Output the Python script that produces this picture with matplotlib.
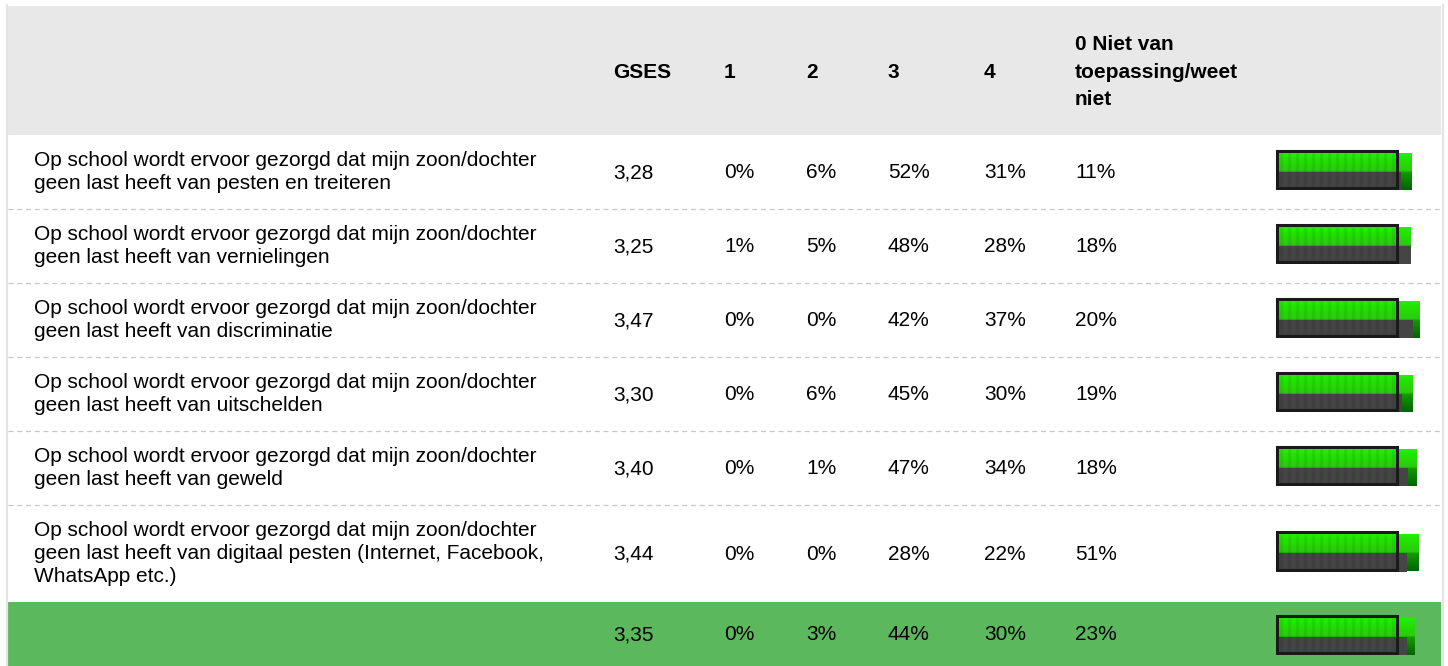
import numpy as np
import matplotlib
matplotlib.use('Agg')
import matplotlib.pyplot as plt
from matplotlib.patches import Rectangle
from matplotlib.colors import LinearSegmentedColormap

plt.rcParams['font.family'] = ['Liberation Sans', 'DejaVu Sans']

# data
vragen = [
    'Op school wordt ervoor gezorgd dat mijn zoon/dochter\ngeen last heeft van pesten en treiteren',
    'Op school wordt ervoor gezorgd dat mijn zoon/dochter\ngeen last heeft van vernielingen',
    'Op school wordt ervoor gezorgd dat mijn zoon/dochter\ngeen last heeft van discriminatie',
    'Op school wordt ervoor gezorgd dat mijn zoon/dochter\ngeen last heeft van uitschelden',
    'Op school wordt ervoor gezorgd dat mijn zoon/dochter\ngeen last heeft van geweld',
    'Op school wordt ervoor gezorgd dat mijn zoon/dochter\ngeen last heeft van digitaal pesten (Internet, Facebook,\nWhatsApp etc.)',
    '',
]
kolommen = ['GSES', '1', '2', '3', '4', '0 Niet van\ntoepassing/weet\nniet']
gses = [3.28, 3.25, 3.47, 3.30, 3.40, 3.44, 3.35]
pct_1 = [0, 1, 0, 0, 0, 0, 0]
pct_2 = [6, 5, 0, 6, 1, 0, 3]
pct_3 = [52, 48, 42, 45, 47, 28, 44]
pct_4 = [31, 28, 37, 30, 34, 22, 30]
pct_0 = [11, 18, 20, 19, 18, 51, 23]
benchmark = [3.02, 3.27, 3.32, 3.05, 3.20, 3.17, 3.17]
kader = 2.93

W, H = 1448, 666
fig = plt.figure(figsize=(W / 100, H / 100), dpi=100)
ax = fig.add_axes([0, 0, 1, 1])
ax.set_xlim(0, W)
ax.set_ylim(H, 0)
ax.axis('off')

# layout
rij_grenzen = [135, 209, 283, 357, 431, 505, 602, 666]
kol_x = [613, 724, 806, 888, 984, 1075]
links, rechts = 8, 1441
fs = 15

ax.add_patch(Rectangle((links, 6), rechts - links, 129, color='#e8e8e8', lw=0))
ax.add_patch(Rectangle((links, 602), rechts - links, 64, color='#5cb85c', lw=0))
ax.plot([6.5, 6.5], [5, H], color='#e4e4e4', lw=1.6)
ax.plot([1442.5, 1442.5], [5, H], color='#e4e4e4', lw=1.6)
for y in rij_grenzen[1:-2]:
    ax.plot([links, rechts], [y, y], color='#c8c8c8', lw=0.9, ls=(0, (4, 3)))

for x, k in zip(kol_x, kolommen):
    ax.text(x, 72, k, fontsize=fs, fontweight='bold', va='center', ha='left', linespacing=1.54)

groen = LinearSegmentedColormap.from_list('g', [(0, '#006400'), (0.48, '#159a00'),
                                                (0.52, '#2acb10'), (0.8, '#22e000'), (1, '#24f000')])
grad = np.linspace(0, 1, 64).reshape(-1, 1)

px = 41.0
for i in range(len(gses)):
    top, bot = rij_grenzen[i], rij_grenzen[i + 1]
    cy = (top + bot) / 2
    ax.text(34, cy, vragen[i], fontsize=fs, va='center', ha='left', linespacing=1.25)
    waarden = ['%.2f' % gses[i]] + ['%d%%' % v[i] for v in (pct_1, pct_2, pct_3, pct_4, pct_0)]
    waarden[0] = waarden[0].replace('.', ',')
    for x, t in zip(kol_x, waarden):
        ax.text(x, cy + 1, t, fontsize=fs, va='center', ha='left')

    # mini balk
    b_top = cy - 23 if i < len(gses) - 1 else cy - 20
    bx = fig.add_axes([1270 / W, 1 - (b_top + 41) / H, 170 / W, 41 / H])
    bx.axis('off')
    bx.imshow(grad, cmap=groen, origin='lower', aspect='auto',
              extent=(0, gses[i], 0, 0.9), zorder=1)
    bx.barh(0.22, benchmark[i], height=0.44, left=0, color='#454545', zorder=2)
    # streepjes-textuur binnen het kader
    bx.vlines(np.arange(0.1, kader, 8 / px), 0.04, 0.9, color='black', alpha=0.07, lw=2.5, zorder=2.5)
    bx.add_patch(Rectangle((0, 0.04), kader, 0.92, fill=False, ec='#1a1a1a', lw=2.2, zorder=3))
    bx.set_xlim(-7 / px, 163 / px)
    bx.set_ylim(0, 1)

fig.savefig('out.png', dpi=100)
